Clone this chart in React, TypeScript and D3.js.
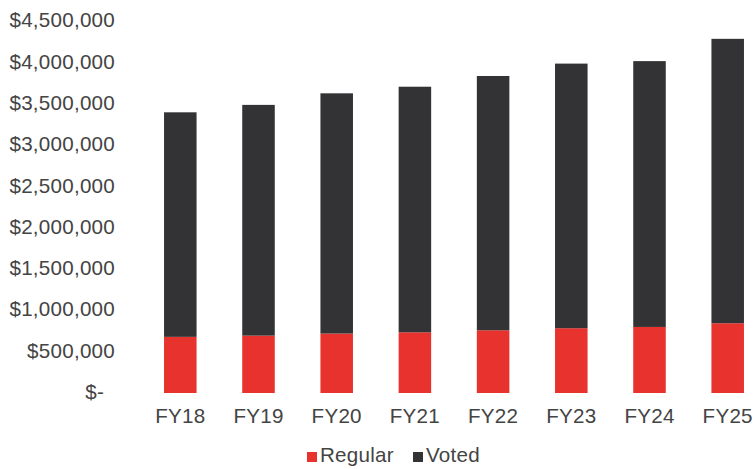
import React from "react";
import * as d3 from "d3";

const categories = ["FY18", "FY19", "FY20", "FY21", "FY22", "FY23", "FY24", "FY25"];
const regular = [680000, 695000, 720000, 735000, 760000, 785000, 800000, 845000];
const totals = [3400000, 3490000, 3630000, 3710000, 3840000, 3990000, 4020000, 4290000];
const voted = totals.map((t, i) => t - regular[i]);
const yTicks = [0, 500000, 1000000, 1500000, 2000000, 2500000, 3000000, 3500000, 4000000, 4500000];
const seriesNames = ["Regular", "Voted"];
const colors = ["#e8322e", "#333336"];

const W = 754;
const H = 469;
const FONT = "'Liberation Sans', Arial, sans-serif";
const TXT = "#444444";
const FS = 20.6;
const LS = 0.25;

export default function App() {
  const x = d3
    .scaleBand<string>()
    .domain(categories)
    .range([141.2, 766.8])
    .paddingInner(0.584)
    .paddingOuter(0.292);
  const y = d3.scaleLinear().domain([0, 4500000]).range([393, 21.5]);

  const rows = categories.map((c, i) => ({ cat: c, Regular: regular[i], Voted: voted[i] }));
  const stack = d3.stack<any>().keys(seriesNames)(rows);

  const fmt = (v: number) => (v === 0 ? "$-" : "$" + d3.format(",")(v));

  return (
    <svg width={W} height={H} style={{ position: "absolute", left: 0, top: 0, background: "#fff" }}>
      <g fontFamily={FONT} fontSize={FS} fill={TXT} letterSpacing={LS}>
        {yTicks.map((t) => (
          <text
            key={t}
            x={t === 0 ? 104 : 115}
            y={y(t) + 0.5}
            textAnchor="end"
            dominantBaseline="middle"
          >
            {fmt(t)}
          </text>
        ))}
        {categories.map((c) => (
          <text key={c} x={(x(c) as number) + x.bandwidth() / 2} y={418} textAnchor="middle" dominantBaseline="middle">
            {c}
          </text>
        ))}
      </g>
      {stack.map((s, si) => (
        <g key={seriesNames[si]} fill={colors[si]}>
          {s.map((d: any, i: number) => (
            <rect
              key={i}
              x={x(categories[i]) as number}
              width={x.bandwidth()}
              y={y(d[1])}
              height={y(d[0]) - y(d[1])}
            />
          ))}
        </g>
      ))}
      <g fontFamily={FONT} fontSize={FS} fill={TXT} letterSpacing={LS}>
        <rect x={307} y={452} width={10} height={10} fill={colors[0]} />
        <text x={320} y={457} dominantBaseline="middle">{seriesNames[0]}</text>
        <rect x={413} y={452} width={10} height={10} fill={colors[1]} />
        <text x={426} y={457} dominantBaseline="middle">{seriesNames[1]}</text>
      </g>
    </svg>
  );
}
